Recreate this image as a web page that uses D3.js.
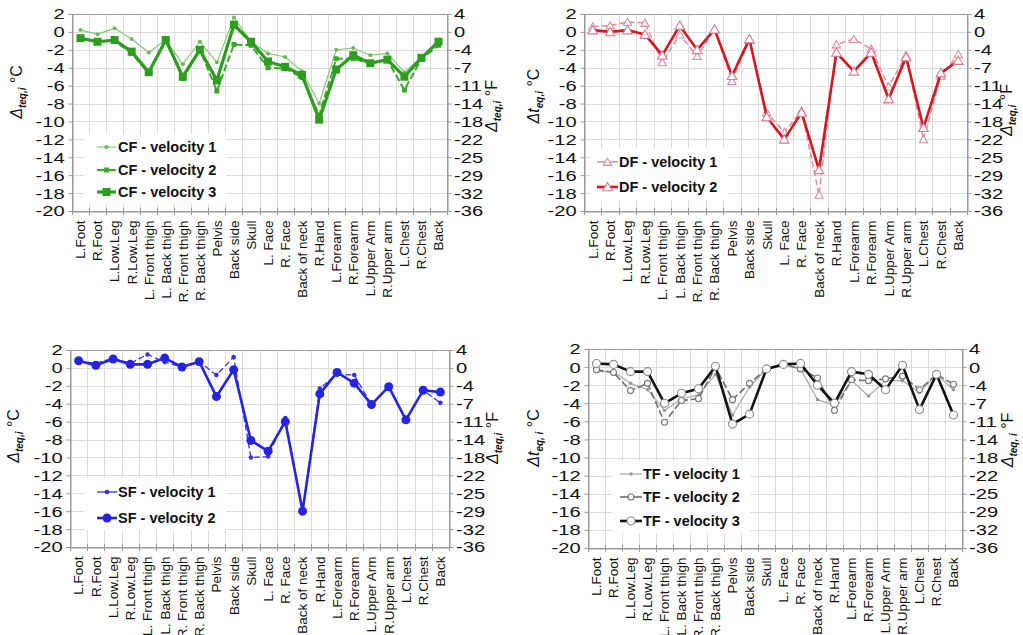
<!DOCTYPE html>
<html><head><meta charset="utf-8">
<script src="https://cdn.jsdelivr.net/npm/d3@7/dist/d3.min.js"></script>
<style>body{margin:0;background:#fff}svg{display:block;font-family:"Liberation Sans",Arial,sans-serif}</style>
</head><body><svg id="c" width="1023" height="635"></svg>
<script>
const categories = ["L.Foot","R.Foot","L.Low.Leg","R.Low.Leg","L. Front thigh","L. Back thigh","R. Front thigh","R. Back thigh","Pelvis","Back side","Skull","L. Face","R. Face","Back of neck","R.Hand","L.Forearm","R.Forearm","L.Upper Arm","R.Upper arm","L.Chest","R.Chest","Back"];
const yTicksC = [2,0,-2,-4,-6,-8,-10,-12,-14,-16,-18,-20];
const yTicksF = ["4","0","-4","-7","-11","-14","-18","-22","-25","-29","-32","-36"];

const cfV1 = [0.2,-0.25,0.4,-0.8,-2.3,-0.9,-3.6,-1.1,-3.4,1.6,-1.1,-2.4,-2.8,-4.4,-8.0,-2.0,-1.8,-2.6,-2.4,-4.5,-2.8,-1.1];
const cfV2 = [-0.7,-1.1,-1.0,-2.4,-4.6,-0.9,-5.2,-2.0,-6.6,-1.4,-1.5,-4.0,-4.1,-5.1,-9.3,-3.0,-3.0,-3.5,-3.1,-6.5,-3.0,-1.5];
const cfV3 = [-0.7,-1.1,-0.9,-2.2,-4.5,-0.9,-5.0,-2.0,-5.4,0.8,-1.1,-3.3,-3.9,-4.8,-9.8,-4.2,-2.6,-3.5,-3.1,-5.0,-2.9,-1.1];

const dfV1 = [0.6,0.7,1.1,1.0,-3.4,-0.3,-2.7,0.3,-5.5,-0.9,-9.0,-11.2,-8.8,-18.2,-1.4,-0.8,-1.9,-6.1,-2.6,-12.0,-4.9,-2.5];
const dfV2 = [0.2,0.0,0.2,-0.3,-2.6,0.7,-2.0,0.3,-4.9,-0.8,-9.5,-12.0,-9.0,-15.4,-2.3,-4.4,-2.3,-7.5,-2.8,-10.7,-4.6,-3.2];

const sfV1 = [0.8,0.5,1.1,0.5,1.5,0.65,0.1,0.7,-0.8,1.2,-10.0,-9.9,-5.6,-16.0,-2.3,-0.7,-0.8,-4.1,-2.1,-5.8,-2.5,-3.9];
const sfV2 = [0.8,0.3,1.0,0.4,0.4,1.1,0.1,0.7,-3.2,-0.2,-8.1,-9.3,-6.0,-16.0,-2.9,-0.5,-1.7,-4.1,-2.1,-5.8,-2.5,-2.7];

const tfV1 = [-0.5,-0.5,-1.8,-2.5,-4.8,-3.5,-3.1,-0.8,-5.3,-2.2,-0.2,0.3,-0.2,-3.6,-4.2,-1.5,-3.2,-1.5,-1.5,-2.8,-0.8,-2.5];
const tfV2 = [-0.3,-0.6,-2.6,-1.8,-6.1,-3.7,-3.5,0.0,-3.6,-1.8,-0.2,0.3,-0.2,-1.2,-4.8,-1.4,-1.5,-1.3,-1.0,-2.5,-0.8,-1.9];
const tfV3 = [0.4,0.3,-0.5,-0.5,-4.0,-2.9,-2.4,0.1,-6.3,-5.2,-0.2,0.3,0.4,-2.0,-4.0,-0.5,-0.8,-2.5,0.2,-4.7,-0.8,-5.3];

const svg = d3.select("#c");

const panels = [
  {l:72,r:447,t:14,b:211, lt:{pre:"Δ",sub:"teq,i",x:22,cy:92}, rt:{x:497,cy:106},
   legend:{x1:97,x2:116,tx:118,ys:[147,170,192],box:[84,134,142,70]},
   series:[
    {name:"CF - velocity 1",data:cfV1,stroke:"#86c775",w:1.2,dash:null,m:"circle",ms:2,mfill:"#6cbb58",mstroke:"none"},
    {name:"CF - velocity 2",data:cfV2,stroke:"#3da72e",w:2,dash:"7,3",m:"square",ms:5,mfill:"#3da72e",mstroke:"none"},
    {name:"CF - velocity 3",data:cfV3,stroke:"#2c9d1e",w:3.2,dash:null,m:"square",ms:8,mfill:"#2c9d1e",mstroke:"none"}]},
  {l:584,r:967,t:14,b:211, lt:{pre:"Δt",sub:"eq,i",x:539,cy:96}, rt:{x:1012,cy:110},
   legend:{x1:597,x2:618,tx:619,ys:[162,187],box:[590,148,138,52]},
   series:[
    {name:"DF - velocity 1",data:dfV1,stroke:"#e68aa0",w:1.5,dash:"6,3",m:"triangle",ms:30,mfill:"#fff",mstroke:"#e48aa0"},
    {name:"DF - velocity 2",data:dfV2,stroke:"#d9161e",w:2.6,dash:null,m:"triangle",ms:40,mfill:"#fff",mstroke:"#e07890"}]},
  {l:70,r:449,t:350,b:547, lt:{pre:"Δ",sub:"teq,i",x:19,cy:436}, rt:{x:498,cy:438},
   legend:{x1:97,x2:117,tx:118,ys:[492,518],box:[84,478,142,52]},
   series:[
    {name:"SF - velocity 1",data:sfV1,stroke:"#3232e6",w:1.3,dash:"6,3",m:"circle",ms:2.3,mfill:"#3232e6",mstroke:"none"},
    {name:"SF - velocity 2",data:sfV2,stroke:"#2424e4",w:2.6,dash:null,m:"circle",ms:4.5,mfill:"#2424e4",mstroke:"none"}]},
  {l:588,r:962,t:349,b:548, lt:{pre:"Δt",sub:"eq, i",x:539,cy:438}, rt:{x:1013,cy:440},
   legend:{x1:620,x2:642,tx:643,ys:[474,497,521],box:[612,461,138,72]},
   series:[
    {name:"TF - velocity 1",data:tfV1,stroke:"#a9a9a9",w:1.2,dash:null,m:"circle",ms:1.8,mfill:"#999",mstroke:"none"},
    {name:"TF - velocity 2",data:tfV2,stroke:"#6e6e6e",w:1.6,dash:"7,3",m:"circle",ms:3,mfill:"#fff",mstroke:"#777"},
    {name:"TF - velocity 3",data:tfV3,stroke:"#141414",w:2.6,dash:null,m:"circle",ms:4,mfill:"#fff",mstroke:"#888"}]}
];

function drawMarker(g, type, size, fill, stroke, cx, cy){
  if(type==="circle"){
    g.append("circle").attr("cx",cx).attr("cy",cy).attr("r",size).attr("fill",fill).attr("stroke",stroke).attr("stroke-width",1.1);
  } else if(type==="square"){
    g.append("rect").attr("x",cx-size/2).attr("y",cy-size/2).attr("width",size).attr("height",size).attr("fill",fill).attr("stroke",stroke);
  } else {
    g.append("path").attr("d",d3.symbol(d3.symbolTriangle).size(size)()).attr("transform",`translate(${cx},${cy+1})`).attr("fill",fill).attr("stroke",stroke).attr("stroke-width",1.1);
  }
}

panels.forEach(p=>{
  const g = svg.append("g");
  const x = d3.scaleBand().domain(categories).range([p.l,p.r]).padding(0);
  const y = d3.scaleLinear().domain([-20,2]).range([p.b,p.t]);
  const step = x.step();
  const grid = g.append("g").attr("stroke","#dcdcdc").attr("stroke-width",1);
  yTicksC.forEach(v=>grid.append("line").attr("x1",p.l).attr("x2",p.r).attr("y1",Math.round(y(v))+0.5).attr("y2",Math.round(y(v))+0.5));
  categories.forEach((c,i)=>{ if(i>0){ const xx=Math.round(x(c))+0.5; grid.append("line").attr("x1",xx).attr("x2",xx).attr("y1",p.t).attr("y2",p.b);} });
  g.append("rect").attr("x",p.legend.box[0]).attr("y",p.legend.box[1]).attr("width",p.legend.box[2]).attr("height",p.legend.box[3]).attr("fill","#fff");
  g.append("rect").attr("x",p.l+0.5).attr("y",p.t+0.5).attr("width",p.r-p.l).attr("height",p.b-p.t).attr("fill","none").attr("stroke","#9a9a9a");
  const ay = g.append("g").attr("transform",`translate(${p.l+0.5},0)`).call(d3.axisLeft(y).tickValues(yTicksC).tickSize(4).tickFormat(d=>String(d)));
  ay.select(".domain").attr("stroke","#9a9a9a");
  ay.selectAll(".tick line").attr("stroke","#9a9a9a");
  ay.selectAll("text").attr("x",-6).attr("transform","scale(1.3,1)").style("font-size","15.5px").attr("fill","#111");
  const ayr = g.append("g").attr("transform",`translate(${p.r+0.5},0)`).call(d3.axisRight(y).tickValues(yTicksC).tickSize(4).tickFormat((d,i)=>yTicksF[i]));
  ayr.select(".domain").attr("stroke","#9a9a9a");
  ayr.selectAll(".tick line").attr("stroke","#9a9a9a");
  ayr.selectAll("text").attr("x",5).attr("transform","scale(1.3,1)").style("font-size","15.5px").attr("fill","#111");
  const ax = g.append("g").attr("transform",`translate(0,${p.b+0.5})`).call(d3.axisBottom(x).tickSize(0));
  ax.select(".domain").attr("stroke","#9a9a9a");
  ax.selectAll("text").attr("transform","rotate(-90)").attr("x",-9).attr("y",0).attr("dy","0.36em").style("text-anchor","end").style("font-size","13.5px").attr("fill","#111");
  for(let i=0;i<=categories.length;i++){
    const xx = Math.round(p.l+i*step)+0.5;
    g.append("line").attr("x1",xx).attr("x2",xx).attr("y1",p.b-3).attr("y2",p.b+4).attr("stroke","#9a9a9a");
  }
  const lt = g.append("text").attr("transform",`translate(${p.lt.x},${p.lt.cy}) rotate(-90)`).attr("text-anchor","middle").style("font-size","16px").attr("fill","#111");
  lt.append("tspan").text(p.lt.pre).style("font-style","italic");
  lt.append("tspan").text(p.lt.sub).attr("dy",4).style("font-size","10px").style("font-style","italic").style("font-weight","bold");
  lt.append("tspan").text(" °C").attr("dy",-4);
  const rt = g.append("text").attr("transform",`translate(${p.rt.x},${p.rt.cy}) rotate(-90)`).attr("text-anchor","middle").style("font-size","16px").attr("fill","#111");
  rt.append("tspan").text("Δ").style("font-style","italic");
  rt.append("tspan").text(p.lt.sub==="eq, i"?"teq, i":"teq,i").attr("dy",4).style("font-size","10px").style("font-style","italic").style("font-weight","bold");
  rt.append("tspan").text(" °F").attr("dy",-4);
  const cx = i => x(categories[i]) + x.bandwidth()/2;
  const line = d3.line().x((d,i)=>cx(i)).y(d=>y(d));
  p.series.forEach(s=>{
    g.append("path").datum(s.data).attr("d",line).attr("fill","none").attr("stroke",s.stroke).attr("stroke-width",s.w).attr("stroke-dasharray",s.dash).attr("stroke-linejoin","round");
    const mg = g.append("g");
    s.data.forEach((v,i)=>drawMarker(mg,s.m,s.ms,s.mfill,s.mstroke,cx(i),y(v)));
  });
  p.series.forEach((s,k)=>{
    const yy = p.legend.ys[k];
    g.append("line").attr("x1",p.legend.x1).attr("x2",p.legend.x2).attr("y1",yy).attr("y2",yy).attr("stroke",s.stroke).attr("stroke-width",s.w);
    drawMarker(g,s.m,s.ms,s.mfill,s.mstroke,(p.legend.x1+p.legend.x2)/2,yy);
    g.append("text").attr("x",p.legend.tx).attr("y",yy).attr("dy","0.36em").text(s.name).style("font-size","14.5px").style("font-weight","bold").attr("fill","#111");
  });
});
</script></body></html>
